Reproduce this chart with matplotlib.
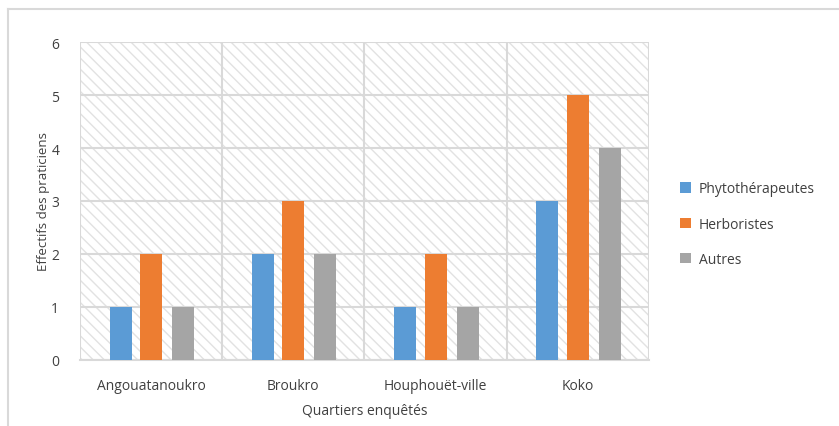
import matplotlib.pyplot as plt
from matplotlib.lines import Line2D
from matplotlib.patches import Patch
import numpy as np

plt.rcParams['font.family'] = ['Open Sans', 'DejaVu Sans']
plt.rcParams['hatch.color'] = '#e2e2e2'
plt.rcParams['hatch.linewidth'] = 1.0

# data
quartiers = ['Angouatanoukro', 'Broukro', 'Houphouët-ville', 'Koko']
phyto = [1, 2, 1, 3]
herbo = [2, 3, 2, 5]
autres = [1, 2, 1, 4]
series = ['Phytothérapeutes', 'Herboristes', 'Autres']
colors = ['#5b9bd5', '#ed7d31', '#a5a5a5']
txt = '#404040'

fig = plt.figure(figsize=(8.39, 4.27), dpi=100)
ax = fig.add_axes([0.0954, 0.155, 0.678, 0.744])

# hatched background
ax.patch.set_facecolor('white')
ax.patch.set_hatch('\\\\\\')
ax.patch.set_edgecolor('#e2e2e2')
ax.patch.set_linewidth(0)

x = np.arange(len(quartiers))
w = 0.155
offs = [-0.215, 0, 0.225]
for vals, off, c, name in zip([phyto, herbo, autres], offs, colors, series):
    ax.bar(x + off, vals, width=w, color=c, label=name, zorder=3)

ax.set_xlim(-0.5, len(quartiers) - 0.5)
ax.set_ylim(0, 6)
ax.set_yticks(range(7))
ax.set_xticks(x)
ax.set_xticklabels(quartiers)
ax.set_xticks(np.arange(-0.5, len(quartiers)), minor=True)
ax.grid(axis='y', color='#d9d9d9', linewidth=1.5, zorder=1)
ax.grid(axis='x', which='minor', color='#d9d9d9', linewidth=1.5, zorder=1)
ax.tick_params(axis='both', which='both', length=0, colors=txt, labelsize=10)
ax.tick_params(axis='x', pad=13)
ax.tick_params(axis='y', pad=15)
for s in ax.spines.values():
    s.set_visible(False)
ax.spines['bottom'].set_visible(True)
ax.spines['bottom'].set_color('#d9d9d9')
ax.spines['bottom'].set_linewidth(1.5)

ax.set_xlabel('Quartiers enquêtés', color=txt, fontsize=10, labelpad=7)
ax.set_ylabel('Effectifs des praticiens', color=txt, fontsize=9.5, labelpad=1)

handles = [Patch(facecolor=c, edgecolor='none') for c in colors]
fig.legend(handles, series, loc='center left', bbox_to_anchor=(0.796, 0.473),
           frameon=False, fontsize=10, labelcolor=txt, handlelength=0.75,
           handleheight=0.75, labelspacing=1.45, handletextpad=0.6)

# outer chart border (top and left visible)
fig.add_artist(Line2D([8 / 839, 1], [1 - 10 / 427] * 2, color='#d9d9d9', lw=1.5))
fig.add_artist(Line2D([8 / 839] * 2, [0, 1 - 10 / 427], color='#d9d9d9', lw=1.5))

fig.savefig('out.png', dpi=100)
